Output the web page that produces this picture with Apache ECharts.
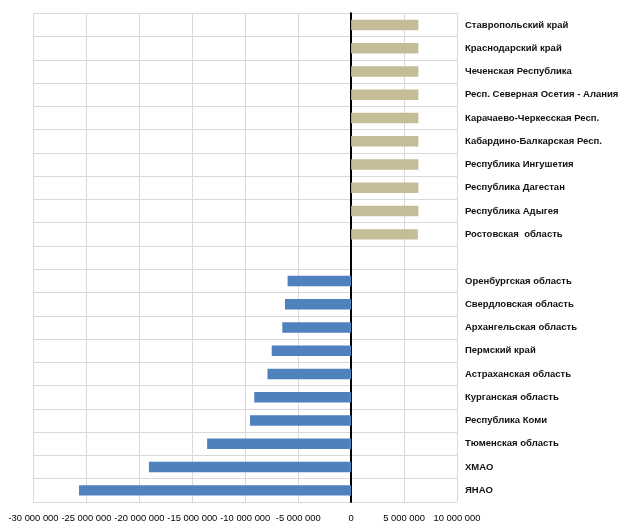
<!DOCTYPE html>
<html>
<head>
<meta charset="utf-8">
<script src="https://cdn.jsdelivr.net/npm/echarts@6/dist/echarts.min.js"></script>
<style>html,body{margin:0;padding:0;background:#fff;}#c{width:620px;height:530px;}</style>
</head>
<body>
<div id="c"></div>
<script>
const categories = [
  'Ставропольский край','Краснодарский край','Чеченская Республика','Респ. Северная Осетия - Алания',
  'Карачаево-Черкесская Респ.','Кабардино-Балкарская Респ.','Республика Ингушетия','Республика Дагестан',
  'Республика Адыгея','Ростовская  область','',
  'Оренбургская область','Свердловская область','Архангельская область','Пермский край',
  'Астраханская область','Курганская область','Республика Коми','Тюменская область','ХМАО','ЯНАО'
];
const values = [
  6350000, 6350000, 6350000, 6350000, 6350000, 6350000, 6350000, 6350000, 6350000, 6300000, null,
  -6000000, -6250000, -6500000, -7500000, -7900000, -9150000, -9550000, -13600000, -19100000, -25700000
];
const xTicks = { min: -30000000, max: 10000000, interval: 5000000 };
const posColor = '#C4BD97';
const negColor = '#4F81BD';

function fmt(v){
  const s = Math.abs(v).toString().replace(/\B(?=(\d{3})+(?!\d))/g, ' ');
  return (v < 0 ? '-' : '') + s;
}

const chart = echarts.init(document.getElementById('c'));
chart.setOption({
  animation: false,
  grid: { left: 33.5, right: 163, top: 13.3, bottom: 28, containLabel: false, outerBoundsMode: 'none' },
  xAxis: {
    type: 'value', min: xTicks.min, max: xTicks.max, interval: xTicks.interval,
    axisLine: { show: false }, axisTick: { show: false },
    splitLine: { show: true, lineStyle: { color: '#d9d9d9', width: 1 } },
    axisLabel: { formatter: fmt, fontFamily: 'Liberation Sans', fontSize: 9.4, color: '#000', margin: 12,
                 showMinLabel: true, showMaxLabel: true, hideOverlap: false, interval: 0 }
  },
  yAxis: [
    {
      type: 'category', data: categories, inverse: true,
      axisLine: { show: true, onZero: true, lineStyle: { color: '#000', width: 2 } },
      axisTick: { show: false }, axisLabel: { show: false },
      splitLine: { show: true, lineStyle: { color: '#d9d9d9', width: 1 } }
    },
    {
      type: 'category', data: categories, inverse: true, position: 'right',
      axisLine: { show: false, onZero: false }, axisTick: { show: false },
      splitLine: { show: false },
      axisLabel: { show: true, margin: 8, fontFamily: 'Liberation Sans', fontWeight: 'bold', fontSize: 9.5, color: '#111', align: 'left' }
    }
  ],
  series: [{
    type: 'bar', data: values, barWidth: '45%', yAxisIndex: 0,
    itemStyle: { color: p => (p.value >= 0 ? posColor : negColor) }
  }]
});
</script>
</body>
</html>
